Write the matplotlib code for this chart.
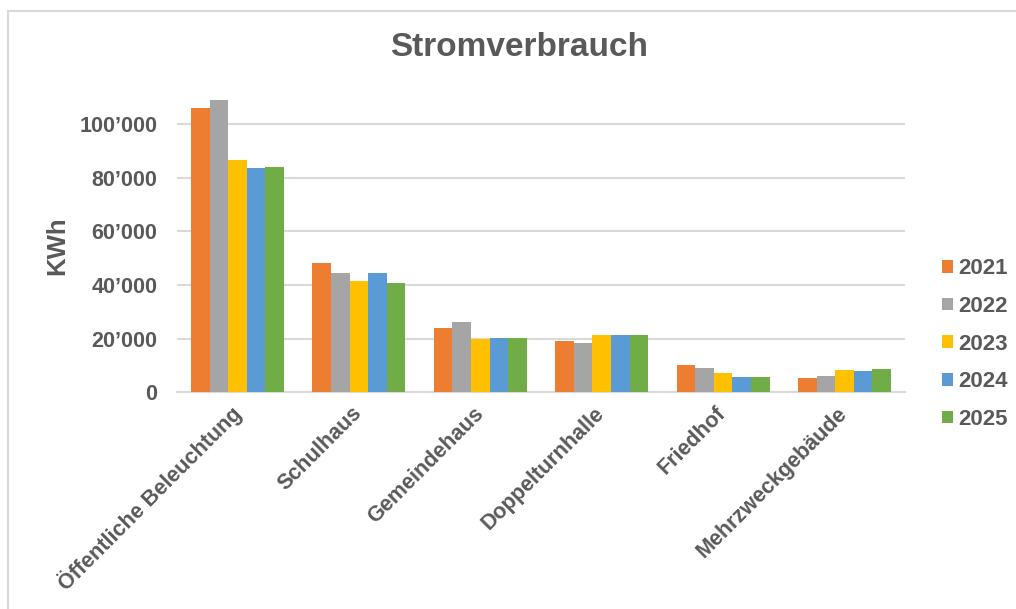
import matplotlib.pyplot as plt
import numpy as np
from matplotlib.patches import Rectangle
from matplotlib.ticker import FuncFormatter

plt.rcParams['font.family'] = ['Liberation Sans', 'DejaVu Sans']

categories = ['Öffentliche Beleuchtung', 'Schulhaus', 'Gemeindehaus',
              'Doppelturnhalle', 'Friedhof', 'Mehrzweckgebäude']
years = ['2021', '2022', '2023', '2024', '2025']
v2021 = [106000, 48100, 23900, 19100, 10000, 5200]
v2022 = [108900, 44600, 26100, 18500, 9100, 6100]
v2023 = [86700, 41500, 20000, 21300, 7300, 8200]
v2024 = [83500, 44600, 20400, 21300, 5600, 7800]
v2025 = [84000, 40700, 20400, 21300, 5600, 8600]
series = [v2021, v2022, v2023, v2024, v2025]
colors = ['#ED7D31', '#A5A5A5', '#FFC000', '#5B9BD5', '#70AD47']
text_col = '#595959'


def fmt(v, pos):
    return '{:,.0f}'.format(v).replace(',', '’')


def main():
    fig = plt.figure(figsize=(10.16, 6.09), dpi=100)
    ax = fig.add_axes([0.174, 0.356, 0.717, 0.484])

    x = np.arange(len(categories))
    w = 0.153
    for i, vals in enumerate(series):
        ax.bar(x + (i - 2) * w, vals, w, color=colors[i], label=years[i],
               zorder=3)

    ax.set_xlim(-0.5, len(categories) - 0.5)
    ax.set_ylim(0, 110000)
    ax.set_yticks(np.arange(0, 100001, 20000))
    ax.yaxis.set_major_formatter(FuncFormatter(fmt))
    ax.grid(axis='y', color='#D9D9D9', linewidth=1.5, zorder=0)
    for s in ['top', 'right', 'left']:
        ax.spines[s].set_visible(False)
    ax.spines['bottom'].set_color('#D9D9D9')
    ax.spines['bottom'].set_linewidth(1.5)
    ax.tick_params(length=0)
    ax.tick_params(axis='y', pad=14)
    ax.tick_params(axis='x', pad=13)

    ax.set_xticks(x)
    ax.set_xticklabels(categories, rotation=45, ha='right', va='center',
                       rotation_mode='anchor')
    for lab in ax.get_xticklabels() + ax.get_yticklabels():
        lab.set_fontsize(15.5)
        lab.set_fontweight('bold')
        lab.set_color(text_col)

    # y label placed by hand, like the reference
    fig.text(57 / 1016, 1 - 246 / 609, 'KWh', fontsize=18.5, fontweight='bold',
             color=text_col, rotation=90, ha='center', va='center')
    fig.text(519 / 1016, 1 - 48 / 609, 'Stromverbrauch', fontsize=24,
             fontweight='bold', color=text_col, ha='center', va='center')

    leg = fig.legend(loc='center left', bbox_to_anchor=(0.907, 0.435),
                     frameon=False, handlelength=0.5, handleheight=0.5,
                     handletextpad=0.25, labelspacing=0.75,
                     prop={'size': 16, 'weight': 'bold'})
    for t in leg.get_texts():
        t.set_color(text_col)

    fig.patches.append(Rectangle((8 / 1016, -0.1), 1.1, 1 - 11 / 609 + 0.1,
                                 transform=fig.transFigure, fill=False,
                                 edgecolor='#D9D9D9', linewidth=1.5))

    fig.savefig('out.png', dpi=100)


if __name__ == '__main__':
    main()
